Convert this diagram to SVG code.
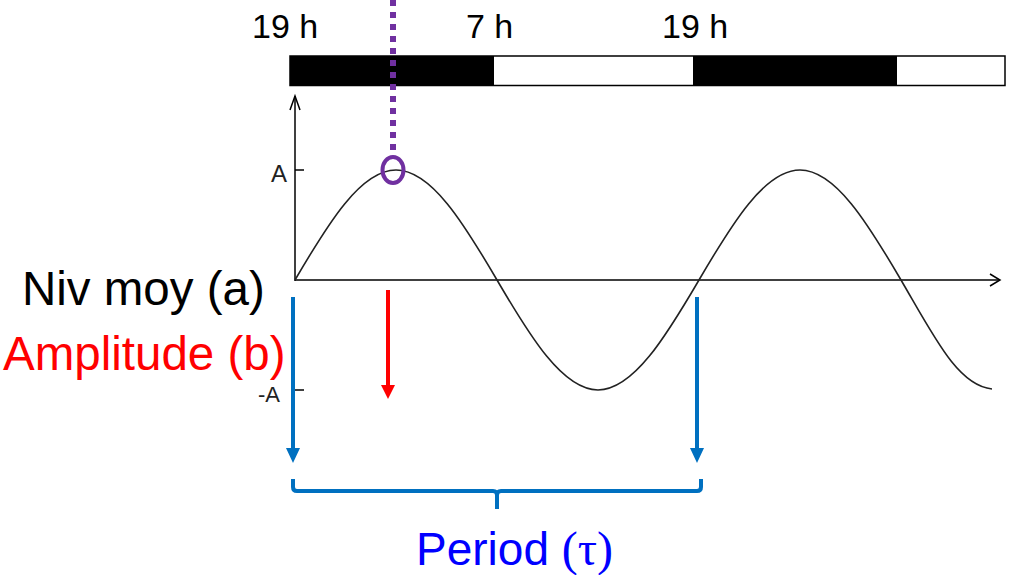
<svg xmlns="http://www.w3.org/2000/svg" width="1017" height="575" viewBox="0 0 1017 575">
<style>
.lbl{font-family:"Liberation Sans",Arial,sans-serif;}
.ax{stroke:#000;stroke-width:1.5;fill:none;}
.blue{stroke:#0070C0;stroke-width:4;fill:none;}
</style>
<rect width="1017" height="575" fill="#fff"/>
<g id="daybar">
<rect x="290" y="56" width="715" height="29.5" fill="#fff" stroke="#000" stroke-width="1.5"/>
<rect x="290" y="56" width="204" height="29.5" fill="#000"/>
<rect x="693" y="56" width="204" height="29.5" fill="#000"/>
</g>
<g id="time-labels" class="lbl" font-size="34" fill="#000">
<text x="252" y="38">19 h</text>
<text x="466" y="38">7 h</text>
<text x="662" y="38">19 h</text>
</g>
<g id="axes">
<line class="ax" x1="295" y1="96" x2="295" y2="281"/>
<polyline class="ax" points="290,110 295,96 300,110"/>
<line class="ax" x1="295" y1="280" x2="1000" y2="280"/>
<polyline class="ax" points="990,274 1000,280 990,286"/>
<line class="ax" x1="295" y1="170" x2="304" y2="170"/>
<line class="ax" x1="295" y1="390" x2="304" y2="390"/>
<text class="lbl" x="271" y="182" font-size="24" fill="#222">A</text>
<text class="lbl" x="258" y="402" font-size="22" fill="#222">-A</text>
</g>
<g id="curve">
<path d="M295,280 C327.9,223.7 360.7,170 396,170 S464.1,223.7 497,280 S562.7,390 598,390 S666.1,336.3 699,280 S764.7,170 800,170 S868.1,223.7 901,280 C933.9,336.3 958,386 992,389" fill="none" stroke="#222" stroke-width="1.6"/>
</g>
<g id="connectors">
<line x1="393" y1="0" x2="393" y2="156" stroke="#7030A0" stroke-width="6" stroke-dasharray="6 6"/>
<line x1="388" y1="290" x2="388" y2="386" stroke="#FF0000" stroke-width="4"/>
<polygon points="381,385 395,385 388,399" fill="#FF0000"/>
<line class="blue" x1="293" y1="297" x2="293" y2="450"/>
<polygon points="286,448 300,448 293,463" fill="#0070C0"/>
<line class="blue" x1="697" y1="297" x2="697" y2="450"/>
<polygon points="690,448 704,448 697,463" fill="#0070C0"/>
<path class="blue" d="M293,479 V487 Q293,491 297,491 H493 Q497,491 497,495 V509 M497,495 Q497,491 501,491 H697 Q701,491 701,487 V479"/>
</g>
<g id="peak-marker">
<ellipse cx="393" cy="170" rx="10.5" ry="13" fill="none" stroke="#7030A0" stroke-width="4"/>
</g>
<g id="labels" class="lbl">
<text x="22" y="305" font-size="47.5" fill="#000">Niv moy (a)</text>
<text x="3" y="370" font-size="47.5" fill="#FF0000">Amplitude (b)</text>
<text x="416" y="565" font-size="46" fill="#0000FF">Period <tspan font-family="'Liberation Serif','Times New Roman',serif" font-size="48">(τ)</tspan></text>
</g>
</svg>
